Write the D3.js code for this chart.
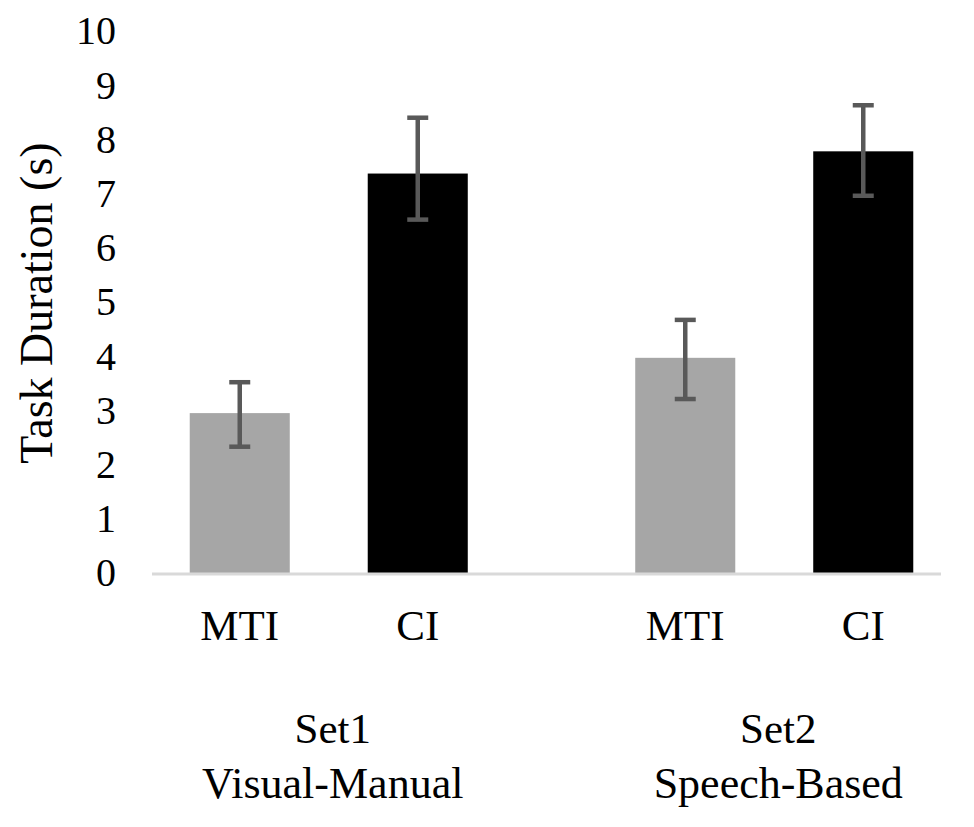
<!DOCTYPE html>
<html lang="en">
<head>
    <meta charset="UTF-8">
    <title>Task Duration</title>
    <script src="https://d3js.org/d3.v7.min.js"></script>
    <style>
        body { margin: 0; background: #fff; }
        svg { display: block; }
        text { font-family: "Liberation Serif", "Times New Roman", serif; fill: #000; }
    </style>
</head>
<body>
    <svg width="974" height="827"></svg>

    <script>
        // data
        const sets = ["Set1", "Set2"];
        const setNames = ["Visual-Manual", "Speech-Based"];
        const methods = ["MTI", "CI"];
        const means = [[2.95, 7.37], [3.97, 7.78]];
        const errLow = [[2.33, 6.52], [3.21, 6.96]];
        const errHigh = [[3.52, 8.40], [4.67, 8.63]];
        const yTicks = [0, 1, 2, 3, 4, 5, 6, 7, 8, 9, 10];

        const colors = { MTI: "#a6a6a6", CI: "#000000" };

        const svg = d3.select("svg");

        const y = d3.scaleLinear().domain([0, 10]).range([573, 31]);

        // outer scale for the two sets, inner scale for MTI / CI
        const x0 = d3.scaleBand().domain(sets).range([106, 997]);
        const x1 = d3.scaleBand().domain(methods).range([-178, 178])
            .paddingInner(0.438).paddingOuter(0.219);

        const rows = [];
        sets.forEach((s, i) => {
            methods.forEach((m, j) => {
                rows.push({ set: s, method: m, v: means[i][j], lo: errLow[i][j], hi: errHigh[i][j] });
            });
        });
        const cx = d => x0(d.set) + x0.bandwidth() / 2 + x1(d.method) + x1.bandwidth() / 2;

        // y axis labels (no line, no ticks)
        const yAxis = d3.axisLeft(y).tickValues(yTicks).tickSize(0).tickPadding(0);
        svg.append("g")
            .attr("transform", "translate(116,0)")
            .call(yAxis)
            .call(g => g.select(".domain").remove())
            .selectAll("text")
            .attr("font-size", 40)
            .attr("font-family", "Liberation Serif")
            .attr("fill", "#000");

        // bars
        svg.append("g")
            .selectAll("rect")
            .data(rows)
            .enter().append("rect")
            .attr("x", d => cx(d) - x1.bandwidth() / 2)
            .attr("width", x1.bandwidth())
            .attr("y", d => y(d.v))
            .attr("height", d => y(0) - y(d.v))
            .attr("fill", d => colors[d.method]);

        // baseline
        svg.append("line")
            .attr("x1", 152).attr("x2", 941)
            .attr("y1", y(0) + 1).attr("y2", y(0) + 1)
            .attr("stroke", "#d9d9d9")
            .attr("stroke-width", 3);

        // error bars
        const err = svg.append("g")
            .attr("stroke", "#595959")
            .attr("stroke-width", 4.5);
        err.selectAll(".stem")
            .data(rows)
            .enter().append("line")
            .attr("x1", cx).attr("x2", cx)
            .attr("y1", d => y(d.hi)).attr("y2", d => y(d.lo));
        err.selectAll(".cap")
            .data(rows.flatMap(d => [{ d: d, v: d.hi }, { d: d, v: d.lo }]))
            .enter().append("line")
            .attr("x1", c => cx(c.d) - 10.5).attr("x2", c => cx(c.d) + 10.5)
            .attr("y1", c => y(c.v)).attr("y2", c => y(c.v));

        // category labels
        svg.append("g")
            .selectAll("text")
            .data(rows)
            .enter().append("text")
            .attr("x", cx)
            .attr("y", 640)
            .attr("text-anchor", "middle")
            .attr("font-size", 43)
            .text(d => d.method);

        const groupLabels = svg.append("g");
        sets.forEach((s, i) => {
            const gx = x0(s) + x0.bandwidth() / 2 + 4;
            groupLabels.append("text")
                .attr("x", gx).attr("y", 743)
                .attr("text-anchor", "middle")
                .attr("font-size", 43)
                .text(s);
            groupLabels.append("text")
                .attr("x", gx).attr("y", 798)
                .attr("text-anchor", "middle")
                .attr("font-size", 44)
                .text(setNames[i]);
        });

        // y axis title
        svg.append("text")
            .attr("transform", "translate(52,303) rotate(-90)")
            .attr("text-anchor", "middle")
            .attr("font-size", 46)
            .text("Task Duration (s)");
    </script>
</body>
</html>
